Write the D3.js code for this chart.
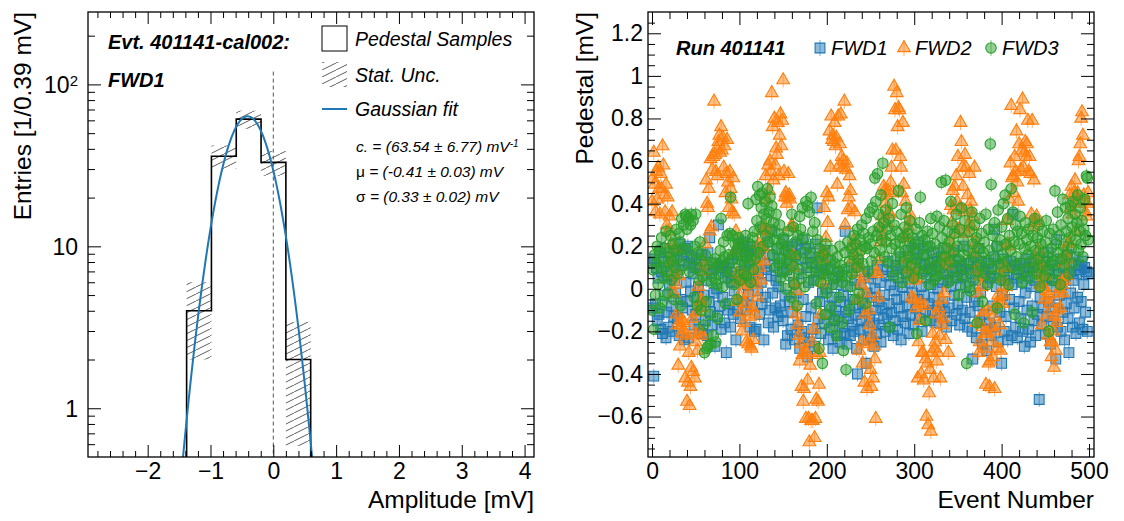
<!DOCTYPE html>
<html>
<head>
<meta charset="utf-8">
<script src="https://cdn.jsdelivr.net/npm/d3@7"></script>
<style>
  body { margin: 0; background: #fff; }
  svg { font-family: 'Liberation Sans', Arial, sans-serif; }
</style>
</head>
<body>
<div class="chart"></div>
<script>
// ---- left panel data: pedestal histogram of one event ----
const binEdges = [-1.38, -0.985, -0.59, -0.195, 0.2, 0.595]
const binCounts = [4, 36, 61, 33, 2]
const fitC = [63.54, 6.77]      // value, error
const fitMu = [-0.41, 0.03]
const fitSigma = [0.33, 0.02]

// ---- right panel data: pedestal per event, one value per event number ----
const fwd1 = [
  0.12,-0.09,-0.41,0.14,-0.07,0.10,-0.15,0.05,-0.12,0.17, -0.19,0.08,-0.21,0.13,-0.03,0.19,-0.23,-0.11,0.06,-0.18,
  0.02,0.15,-0.08,-0.20,0.11,-0.13,0.04,-0.02,0.18,-0.14, 0.09,-0.22,0.21,-0.05,0.16,-0.09,0.13,-0.24,0.19,0.03,
  -0.06,0.20,-0.23,0.12,-0.01,0.15,-0.10,0.07,-0.17,0.10, -0.12,0.14,-0.04,0.01,-0.19,0.09,-0.08,0.16,-0.21,-0.03,
  0.11,-0.15,0.04,-0.22,0.17,-0.06,0.24,-0.11,0.07,-0.17, 0.09,-0.02,-0.27,0.12,0.00,-0.13,0.30,-0.08,0.11,-0.19,
  0.10,-0.04,0.11,-0.16,0.05,-0.30,0.08,-0.10,0.12,-0.07, -0.18,0.03,0.14,-0.12,-0.01,0.06,-0.24,0.16,-0.09,0.21,
  0.05,-0.14,0.19,0.08,-0.06,0.22,0.11,-0.10,0.17,0.02, -0.03,0.18,-0.18,0.13,-0.08,0.20,0.04,-0.20,0.09,-0.19,
  0.15,-0.01,0.07,-0.12,0.19,0.03,-0.07,0.28,-0.24,0.12, -0.04,0.09,0.22,-0.16,0.16,-0.10,0.06,0.27,-0.02,-0.18,
  0.11,-0.09,0.04,0.19,-0.13,0.01,0.14,-0.08,-0.11,0.08, -0.15,0.23,-0.03,-0.26,0.09,-0.22,0.18,-0.06,0.12,-0.19,
  0.20,-0.11,0.03,-0.24,0.16,-0.02,0.21,-0.17,0.07,-0.28, 0.14,-0.20,0.23,-0.05,-0.23,0.19,-0.13,0.10,-0.32,0.03,
  -0.25,0.17,-0.09,0.12,-0.19,0.04,-0.27,0.21,0.08,0.38, -0.14,0.15,-0.06,-0.21,0.11,-0.02,0.07,-0.16,0.18,0.00,
  -0.12,0.09,-0.24,-0.08,0.13,-0.19,-0.04,-0.28,0.05,-0.15, -0.10,0.02,-0.22,-0.13,0.08,-0.25,-0.06,0.06,-0.18,-0.03,
  -0.21,0.27,-0.11,-0.26,0.01,-0.14,-0.08,-0.22,0.10,-0.17, -0.05,-0.20,0.04,-0.12,-0.28,-0.40,0.12,-0.09,-0.19,0.02,
  -0.15,-0.07,-0.24,0.08,-0.11,-0.35,-0.02,-0.18,0.05,-0.13, -0.23,-0.04,0.07,-0.16,-0.27,0.00,-0.10,-0.21,0.11,-0.06,
  -0.17,0.03,-0.25,-0.09,0.09,-0.14,-0.03,-0.20,0.06,-0.12, 0.13,-0.07,-0.18,0.02,-0.11,0.08,-0.22,-0.01,-0.15,0.11,
  -0.05,-0.19,0.05,-0.09,0.15,-0.24,0.01,-0.13,0.10,-0.04, -0.16,0.07,-0.08,0.18,-0.21,0.03,-0.12,0.12,-0.02,-0.17,
  0.06,0.19,-0.09,0.14,-0.05,0.22,-0.14,0.08,0.01,-0.20, 0.16,-0.03,0.11,-0.11,0.05,0.20,-0.07,0.12,-0.15,0.02,
  0.09,-0.10,0.17,-0.04,0.06,-0.16,0.13,0.00,-0.08,0.10, -0.13,0.15,0.03,-0.06,0.19,-0.11,0.07,-0.18,0.12,0.04,
  -0.09,0.14,0.01,-0.15,0.08,0.18,-0.03,0.10,-0.12,0.05, -0.07,0.13,-0.17,0.02,0.11,-0.10,0.06,0.20,-0.14,0.09,
  -0.04,-0.18,0.12,0.01,-0.11,0.07,-0.20,-0.33,0.15,-0.06, 0.04,-0.23,0.10,-0.08,0.19,-0.15,-0.02,0.13,-0.26,0.06,
  -0.12,0.08,-0.19,-0.29,0.03,0.12,-0.16,0.05,-0.22,0.09, -0.08,0.15,0.28,-0.18,0.01,0.20,-0.25,0.06,-0.11,0.11,
  -0.35,-0.03,0.14,-0.20,0.04,-0.13,0.10,-0.24,0.07,-0.05, 0.13,-0.22,0.02,0.35,-0.09,0.11,-0.18,0.05,-0.23,0.09,
  -0.06,0.12,-0.14,0.03,-0.20,0.08,-0.27,-0.02,0.14,-0.10, 0.06,-0.19,0.10,-0.25,0.01,-0.08,0.12,-0.15,0.04,-0.22,
  0.08,-0.12,0.15,-0.52,-0.04,0.10,-0.17,0.03,-0.09,0.13, -0.21,0.05,-0.13,0.17,-0.06,0.09,-0.26,0.01,0.11,-0.15,
  0.04,-0.09,-0.33,0.23,-0.18,0.07,-0.03,0.14,-0.20,0.02, -0.11,0.10,-0.24,0.06,-0.07,0.16,-0.14,-0.30,0.08,-0.02,
  0.12,-0.18,0.04,-0.09,0.15,-0.21,0.07,-0.04,0.11,-0.16, 0.09,-0.06,0.13,-0.19,0.02,0.10,-0.11,0.08,-0.20,0.07
]
const fwd2 = [
  0.41,0.52,0.64,0.49,0.36,0.55,0.42,0.57,0.47,0.35, 0.54,0.47,0.67,0.58,0.44,0.36,0.49,0.30,0.43,0.27,
  0.34,0.13,0.21,0.36,0.07,-0.02,0.19,0.02,-0.12,-0.17, -0.36,0.06,-0.27,-0.17,-0.21,-0.15,-0.19,-0.16,-0.42,-0.22,
  -0.53,-0.44,-0.30,-0.55,-0.46,-0.37,-0.14,-0.39,-0.21,-0.42, -0.25,-0.11,-0.29,0.01,-0.20,-0.06,-0.05,-0.09,-0.22,0.08,
  0.12,0.21,0.51,0.40,0.38,0.47,0.27,0.61,0.29,0.56, 0.62,0.88,0.63,0.55,0.66,0.53,0.69,0.72,0.64,0.76,
  0.65,0.71,0.57,0.67,0.45,0.54,0.70,0.50,0.38,0.55, 0.47,0.42,0.36,0.52,0.35,0.18,0.27,0.07,-0.06,0.04,
  -0.03,-0.11,0.03,-0.20,0.07,-0.16,0.02,-0.07,-0.25,0.05, -0.26,-0.02,-0.13,-0.27,-0.28,-0.09,-0.24,0.08,-0.12,0.02,
  0.14,-0.04,0.21,0.10,0.19,0.04,0.27,0.20,0.13,0.29, 0.53,0.42,0.27,0.58,0.46,0.60,0.55,0.92,0.76,0.51,
  0.80,0.58,0.66,0.63,0.78,0.53,0.72,0.82,0.67,0.79, 0.98,0.55,0.43,0.45,0.40,0.43,0.54,0.44,0.42,0.29,
  0.30,0.16,0.10,0.03,-0.08,-0.12,-0.01,-0.17,-0.22,-0.34, -0.26,-0.46,-0.31,-0.53,-0.47,-0.29,-0.61,-0.30,-0.43,-0.61,
  -0.72,-0.36,-0.62,-0.25,-0.62,-0.19,-0.70,-0.61,-0.52,-0.31, -0.53,-0.45,-0.30,-0.12,0.17,0.03,0.14,0.38,0.17,0.24,
  0.45,0.31,0.43,0.74,0.57,0.81,0.70,0.72,0.69,0.78, 0.67,0.71,0.49,0.81,0.58,0.68,0.82,0.62,0.57,0.60,
  0.88,0.30,0.56,0.59,0.37,0.43,0.53,0.46,0.38,0.20, 0.14,0.23,0.36,0.07,0.12,0.17,-0.05,-0.29,0.10,0.02,
  -0.25,-0.35,0.05,-0.44,-0.12,-0.02,-0.47,-0.26,-0.10,-0.17, -0.38,-0.46,-0.22,-0.42,-0.27,-0.33,-0.61,0.08,0.07,-0.04,
  0.14,0.29,0.22,0.34,0.25,0.48,0.46,0.40,0.44,0.31, 0.46,0.36,0.35,0.50,0.57,0.65,0.45,0.95,0.84,0.65,
  0.92,0.76,0.85,0.84,0.62,0.57,0.45,0.78,0.49,0.24, 0.41,0.25,0.14,0.29,0.09,0.35,0.32,-0.04,0.06,0.10,
  -0.05,0.04,-0.09,0.05,-0.42,-0.25,-0.15,-0.07,-0.40,-0.30, -0.30,-0.43,-0.08,-0.33,-0.60,-0.35,-0.64,-0.49,-0.38,-0.67,
  -0.30,-0.21,-0.42,-0.28,-0.25,-0.12,-0.34,-0.30,-0.09,-0.22, -0.42,-0.05,-0.17,-0.14,-0.02,0.14,-0.24,0.11,0.14,-0.30,
  0.18,0.22,0.39,0.31,0.46,0.37,0.48,0.26,0.53,0.41, 0.62,0.28,0.38,0.78,0.69,0.57,0.48,0.36,0.63,0.57,
  0.26,0.44,0.30,0.54,0.37,0.41,0.29,0.34,0.17,0.57, 0.22,-0.16,0.09,-0.02,-0.30,-0.25,0.06,0.01,-0.18,-0.11,
  -0.28,-0.21,-0.45,-0.10,-0.21,-0.35,-0.46,-0.34,-0.18,-0.25, -0.32,-0.13,-0.47,-0.20,-0.07,-0.28,-0.03,-0.07,-0.17,-0.29,
  0.05,-0.07,0.10,-0.03,0.10,0.01,0.32,0.21,0.20,0.42, 0.59,0.86,0.52,0.53,0.45,0.62,0.55,0.74,0.50,0.41,
  0.68,0.84,0.56,0.65,0.89,0.57,0.64,0.69,0.62,0.68, 0.79,0.55,0.62,0.54,0.35,0.79,0.29,0.51,0.32,0.31,
  0.34,0.13,0.18,0.07,0.02,0.11,-0.17,0.01,0.06,-0.05, 0.06,-0.01,-0.12,-0.22,-0.03,-0.07,-0.25,-0.32,-0.25,-0.20,
  -0.37,-0.13,-0.29,-0.16,-0.10,-0.02,0.00,-0.09,0.04,0.02, -0.02,0.12,0.04,0.17,0.06,0.14,0.21,0.22,0.44,0.38,
  0.48,0.35,0.40,0.45,0.51,0.27,0.43,0.45,0.60,0.62, 0.68,0.80,0.83,0.72,0.44,0.41,0.36,0.34,0.40,0.45
]
const fwd3 = [
  -0.10,0.09,-0.19,0.16,-0.03,0.12,0.20,0.02,0.18,-0.09, 0.10,0.24,-0.06,0.14,0.05,0.19,0.27,0.08,-0.02,0.17,
  0.12,0.25,0.04,0.13,0.21,-0.05,0.18,0.10,0.28,0.07, 0.15,0.26,0.22,-0.08,0.33,0.19,0.30,0.11,0.35,0.34,
  0.28,0.18,0.33,0.08,0.30,0.35,0.14,0.32,-0.04,0.20, 0.35,0.10,-0.08,0.17,0.04,0.22,-0.10,0.13,0.06,-0.17,
  -0.30,0.16,-0.06,-0.28,-0.27,0.09,-0.12,-0.26,0.03,0.12, -0.22,0.05,0.14,-0.25,0.02,-0.14,0.11,0.07,0.18,0.33,
  0.13,0.01,0.22,0.15,-0.07,0.10,0.25,0.05,0.16,0.26, 0.43,0.08,0.25,0.14,0.02,0.21,0.17,-0.05,0.19,0.24,
  0.11,0.04,0.22,0.13,0.20,0.07,0.16,0.25,0.06,0.15, 0.40,0.12,0.21,0.03,0.18,0.24,0.09,0.27,0.14,0.42,
  0.32,0.48,0.17,0.44,0.29,0.38,0.45,0.20,0.35,0.41, 0.25,0.33,0.47,0.22,0.36,0.43,0.28,0.39,0.16,0.31,
  0.23,0.10,0.35,0.19,0.26,0.12,0.30,0.05,0.21,0.14, 0.24,0.08,0.18,0.00,0.13,0.20,0.27,0.06,0.16,-0.04,
  0.35,0.11,0.29,0.02,0.22,0.15,-0.08,0.25,0.09,0.34, 0.28,0.05,0.38,0.17,0.24,0.01,0.41,0.12,0.39,0.20,
  0.36,0.08,0.43,0.15,0.27,0.04,0.31,0.10,-0.07,0.23, 0.13,-0.28,0.19,0.03,0.07,-0.35,0.16,0.09,-0.12,0.21,
  -0.02,0.14,0.06,-0.18,0.10,-0.09,0.18,0.02,-0.14,0.12, 0.05,-0.22,0.15,0.08,-0.04,0.20,0.11,-0.16,0.03,-0.29,
  0.09,0.17,-0.38,0.06,0.22,-0.10,0.13,0.01,0.19,0.07, 0.16,0.25,-0.05,0.21,0.10,0.28,0.14,-0.02,0.23,0.18,
  0.30,0.12,0.26,0.20,-0.07,0.33,0.19,0.08,0.24,0.36, 0.21,0.13,0.38,0.27,0.17,0.52,0.41,0.25,0.54,0.35,
  0.29,0.18,0.44,0.23,0.59,0.31,0.15,0.37,0.22,0.28, 0.12,0.33,-0.18,0.25,0.19,0.40,0.06,0.30,0.21,0.14,
  0.27,0.09,0.46,0.17,0.22,0.35,0.03,0.24,0.13,0.29, 0.18,0.38,0.08,0.26,0.15,0.32,0.11,0.20,0.24,0.05,
  0.21,0.14,0.28,-0.21,0.17,0.09,0.31,0.43,0.12,0.25, 0.07,0.19,0.23,-0.15,0.16,0.27,0.10,0.02,0.20,0.33,
  0.08,0.26,0.14,0.04,0.21,0.11,0.34,0.06,0.18,0.29, 0.12,0.50,0.24,0.07,0.32,0.15,0.51,0.19,0.27,0.03,
  0.22,0.13,0.41,0.09,0.30,0.17,0.26,0.05,0.35,0.20, 0.14,-0.03,0.28,0.11,0.38,0.06,0.23,0.16,0.32,0.01,
  -0.35,0.18,0.09,0.27,-0.01,0.13,0.36,0.21,0.04,0.30, 0.15,0.24,-0.16,0.08,0.19,0.33,0.11,0.26,-0.06,0.17,
  0.22,0.07,0.35,0.13,0.02,0.28,0.18,0.68,0.49,0.10, 0.25,0.06,0.31,0.14,0.20,-0.09,0.37,0.12,0.23,0.04,
  0.29,0.16,0.40,0.08,0.44,0.21,0.13,0.33,0.02,0.25, 0.18,0.47,0.10,0.36,0.22,-0.12,0.30,0.15,0.27,0.07,
  0.21,0.34,0.12,0.26,0.03,-0.16,0.19,0.31,0.09,0.23, 0.16,0.28,0.05,0.20,0.13,-0.11,0.25,0.10,0.33,0.18,
  0.07,0.24,0.14,0.30,0.01,0.21,0.11,0.27,0.17,0.06, 0.22,0.32,0.09,0.15,-0.20,0.26,0.12,0.19,0.04,0.28,
  0.13,0.46,0.21,0.08,0.36,0.17,0.25,0.02,0.30,0.14, 0.42,0.20,0.11,0.38,0.27,0.16,0.33,0.07,0.24,0.39,
  0.19,0.29,0.41,0.12,0.35,0.23,0.31,0.44,0.18,0.27, 0.38,0.21,0.32,0.15,0.28,0.42,0.25,0.53,0.52,0.23
]
const seriesNames = ['FWD1', 'FWD2', 'FWD3']
const seriesErr = [0.035, 0.035, 0.035]      // typical stat. error per point
const wideErr = {series: 2, event: 193, err: 0.29}  // one FWD3 point with a large error

// ---- tick labels ----
const xTicksL = [-2, -1, 0, 1, 2, 3, 4]
const yTicksL = [1, 10, 100]
const xTicksR = [0, 100, 200, 300, 400, 500]
const yTicksR = [-0.6, -0.4, -0.2, 0, 0.2, 0.4, 0.6, 0.8, 1, 1.2]

const colors = ['#1f77b4', '#ff7f0e', '#2ca02c']
const fs = 23

const svg = d3.select('.chart').append('svg')
  .attr('width', 1124)
  .attr('height', 521)

const defs = svg.append('defs')
defs.append('pattern')
    .attr('id', 'hatch')
    .attr('patternUnits', 'userSpaceOnUse')
    .attr('width', 14).attr('height', 7)
  .append('path')
    .attr('d', 'M0,7 L14,0 M-14,7 L0,0 M14,7 L28,0')
    .attr('stroke', '#333')
    .attr('stroke-width', 0.8)

// =============== LEFT PANEL ===============
const L = {left: 88, right: 534, top: 12, bottom: 457}
const xL = d3.scaleLinear().domain([-2.95, 4.15]).range([L.left, L.right])
const yL = d3.scaleLog().domain([0.5, 280]).range([L.bottom, L.top])

defs.append('clipPath').attr('id', 'clipL')
  .append('rect').attr('x', L.left).attr('y', L.top)
  .attr('width', L.right - L.left).attr('height', L.bottom - L.top)

const gL = svg.append('g')
const plotL = gL.append('g').attr('clip-path', 'url(#clipL)')

// stat. uncertainty band
plotL.selectAll('.unc')
  .data(binCounts)
  .enter()
  .append('rect')
    .attr('class', 'unc')
    .attr('x', (d, i) => xL(binEdges[i]))
    .attr('width', (d, i) => xL(binEdges[i + 1]) - xL(binEdges[i]))
    .attr('y', d => yL(d + Math.sqrt(d)))
    .attr('height', d => yL(Math.max(d - Math.sqrt(d), 0.5)) - yL(d + Math.sqrt(d)))
    .attr('fill', 'url(#hatch)')

// zero line
plotL.append('line')
  .attr('x1', xL(0)).attr('x2', xL(0))
  .attr('y1', yL(120)).attr('y2', L.bottom)
  .attr('stroke', '#555').attr('stroke-width', 1)
  .attr('stroke-dasharray', '4,3')

// histogram outline
let histPath = `M${xL(binEdges[0])},${L.bottom}`
binCounts.forEach((n, i) => {
  histPath += `V${yL(n)}H${xL(binEdges[i + 1])}`
})
histPath += `V${L.bottom}`
plotL.append('path')
  .attr('d', histPath)
  .attr('fill', 'none')
  .attr('stroke', '#000')
  .attr('stroke-width', 1.6)

// gaussian fit curve from the fitted parameters
const gauss = x => fitC[0] * Math.exp(-((x - fitMu[0]) ** 2) / (2 * fitSigma[0] ** 2))
const curvePts = d3.range(-2.95, 4.15, 0.01).filter(x => gauss(x) > 0.2)
plotL.append('path')
  .attr('d', d3.line().x(x => xL(x)).y(x => yL(gauss(x)))(curvePts))
  .attr('fill', 'none')
  .attr('stroke', colors[0])
  .attr('stroke-width', 2)

// axes (ticks inside, on all four sides)
function styleAxis(g) {
  g.select('.domain').remove()
  g.selectAll('line').attr('stroke', '#000').attr('stroke-width', 1)
  g.selectAll('text').attr('font-size', fs).attr('fill', '#000')
    .style('font-family', "'Liberation Sans', Arial, sans-serif")
}

const xMinorL = d3.range(-2.8, 4.15, 0.2).filter(v => Math.abs(v - Math.round(v)) > 0.01)
gL.append('g').attr('transform', `translate(0,${L.bottom})`)
  .call(d3.axisBottom(xL).tickValues(xTicksL).tickSize(-12).tickPadding(6).tickFormat(d3.format('~g')))
  .call(styleAxis)
gL.append('g').attr('transform', `translate(0,${L.bottom})`)
  .call(d3.axisBottom(xL).tickValues(xMinorL).tickSize(-6).tickFormat(''))
  .call(styleAxis)
gL.append('g').attr('transform', `translate(0,${L.top})`)
  .call(d3.axisTop(xL).tickValues(xTicksL).tickSize(-12).tickFormat(''))
  .call(styleAxis)
gL.append('g').attr('transform', `translate(0,${L.top})`)
  .call(d3.axisTop(xL).tickValues(xMinorL).tickSize(-6).tickFormat(''))
  .call(styleAxis)

const yMinorL = [0.6, 0.7, 0.8, 0.9, 2, 3, 4, 5, 6, 7, 8, 9, 20, 30, 40, 50, 60, 70, 80, 90, 200]
gL.append('g').attr('transform', `translate(${L.left},0)`)
  .call(d3.axisLeft(yL).tickValues(yTicksL).tickSize(-13).tickFormat(''))
  .call(styleAxis)
gL.append('g').attr('transform', `translate(${L.left},0)`)
  .call(d3.axisLeft(yL).tickValues(yMinorL).tickSize(-7).tickFormat(''))
  .call(styleAxis)
gL.append('g').attr('transform', `translate(${L.right},0)`)
  .call(d3.axisRight(yL).tickValues(yTicksL).tickSize(-13).tickFormat(''))
  .call(styleAxis)
gL.append('g').attr('transform', `translate(${L.right},0)`)
  .call(d3.axisRight(yL).tickValues(yMinorL).tickSize(-7).tickFormat(''))
  .call(styleAxis)

// log labels: 1, 10, 10^2
yTicksL.forEach(v => {
  const t = gL.append('text')
    .attr('x', L.left - 10).attr('y', yL(v)).attr('dy', '0.36em')
    .attr('text-anchor', 'end').attr('font-size', fs)
  if (v < 100) t.text(v)
  else {
    t.append('tspan').text('10')
    t.append('tspan').attr('dy', '-0.45em').attr('font-size', 15).text(Math.log10(v))
  }
})

gL.append('rect')
  .attr('x', L.left).attr('y', L.top)
  .attr('width', L.right - L.left).attr('height', L.bottom - L.top)
  .attr('fill', 'none').attr('stroke', '#000').attr('stroke-width', 1.3)

gL.append('text')
  .attr('transform', `translate(31,${L.top}) rotate(-90)`)
  .attr('text-anchor', 'end').attr('font-size', 24.5)
  .text('Entries [1/0.39 mV]')
gL.append('text')
  .attr('x', L.right).attr('y', 508)
  .attr('text-anchor', 'end').attr('font-size', 24.5)
  .text('Amplitude [mV]')

// labels + legend
gL.append('text').attr('x', 108).attr('y', 49)
  .attr('font-size', 20).attr('font-weight', 'bold').attr('font-style', 'italic')
  .text('Evt. 401141-cal002:')
gL.append('text').attr('x', 108).attr('y', 87)
  .attr('font-size', 20).attr('font-weight', 'bold').attr('font-style', 'italic')
  .text('FWD1')

gL.append('rect').attr('x', 322).attr('y', 26).attr('width', 25).attr('height', 25)
  .attr('fill', 'none').attr('stroke', '#000').attr('stroke-width', 1)
gL.append('rect').attr('x', 322).attr('y', 62).attr('width', 25).attr('height', 25)
  .attr('fill', 'url(#hatch)')
gL.append('line').attr('x1', 322).attr('x2', 347).attr('y1', 109).attr('y2', 109)
  .attr('stroke', colors[0]).attr('stroke-width', 2)

const legL = ['Pedestal Samples', 'Stat. Unc.', 'Gaussian fit']
legL.forEach((s, i) => {
  gL.append('text').attr('x', 355).attr('y', [46, 82, 116][i])
    .attr('font-size', 19.5).attr('font-style', 'italic').text(s)
})

const fitLines = [
  ['c.', ` = (${fitC[0].toFixed(2)} \u00b1 ${fitC[1].toFixed(2)}) mV`, '-1'],
  ['\u03bc', ` = (${fitMu[0].toFixed(2)} \u00b1 ${fitMu[1].toFixed(2)}) mV`, ''],
  ['\u03c3', ` = (${fitSigma[0].toFixed(2)} \u00b1 ${fitSigma[1].toFixed(2)}) mV`, '']
]
fitLines.forEach((f, i) => {
  const t = gL.append('text').attr('x', 356).attr('y', 152 + i * 25)
    .attr('font-size', 15.5).attr('font-style', 'italic')
  t.append('tspan').attr('font-style', i === 0 ? 'italic' : 'normal').text(f[0])
  t.append('tspan').text(f[1])
  if (f[2]) t.append('tspan').attr('dy', '-0.5em').attr('font-size', 10).text(f[2])
})

// =============== RIGHT PANEL ===============
const R = {left: 648, right: 1094, top: 12, bottom: 457}
const xR = d3.scaleLinear().domain([-4.6, 505.7]).range([R.left, R.right])
const yR = d3.scaleLinear().domain([-0.79, 1.3]).range([R.bottom, R.top])

defs.append('clipPath').attr('id', 'clipR')
  .append('rect').attr('x', R.left).attr('y', R.top)
  .attr('width', R.right - R.left).attr('height', R.bottom - R.top)

const gR = svg.append('g')
const plotR = gR.append('g').attr('clip-path', 'url(#clipR)')

const symbols = [
  d3.symbol().type(d3.symbolSquare).size(96),
  d3.symbol().type(d3.symbolTriangle).size(70),
  d3.symbol().type(d3.symbolCircle).size(86)
]

;[fwd1, fwd2, fwd3].forEach((vals, s) => {
  const pts = vals.map((v, i) => ({e: i, v: v,
    err: (s === wideErr.series && i === wideErr.event) ? wideErr.err : seriesErr[s]}))
  const g = plotR.append('g').attr('class', 'series-' + seriesNames[s])
  g.selectAll('line')
    .data(pts)
    .enter()
    .append('line')
      .attr('x1', d => xR(d.e)).attr('x2', d => xR(d.e))
      .attr('y1', d => yR(d.v - d.err)).attr('y2', d => yR(d.v + d.err))
      .attr('stroke', colors[s]).attr('stroke-opacity', 0.6).attr('stroke-width', 1)
  g.selectAll('path')
    .data(pts)
    .enter()
    .append('path')
      .attr('d', symbols[s])
      .attr('transform', d => `translate(${xR(d.e)},${yR(d.v)})`)
      .attr('fill', colors[s]).attr('fill-opacity', 0.5)
      .attr('stroke', colors[s]).attr('stroke-width', 1.1)
})

const xMinorR = d3.range(-0, 506, 20).filter(v => v % 100 !== 0)
const yMinorR = d3.range(-0.75, 1.3, 0.05).filter(v => Math.abs(v * 5 - Math.round(v * 5)) > 0.01)
gR.append('g').attr('transform', `translate(0,${R.bottom})`)
  .call(d3.axisBottom(xR).tickValues(xTicksR).tickSize(-13).tickPadding(6).tickFormat(d3.format('d')))
  .call(styleAxis)
gR.append('g').attr('transform', `translate(0,${R.bottom})`)
  .call(d3.axisBottom(xR).tickValues(xMinorR).tickSize(-7).tickFormat(''))
  .call(styleAxis)
gR.append('g').attr('transform', `translate(0,${R.top})`)
  .call(d3.axisTop(xR).tickValues(xTicksR).tickSize(-13).tickFormat(''))
  .call(styleAxis)
gR.append('g').attr('transform', `translate(0,${R.top})`)
  .call(d3.axisTop(xR).tickValues(xMinorR).tickSize(-7).tickFormat(''))
  .call(styleAxis)
gR.append('g').attr('transform', `translate(${R.left},0)`)
  .call(d3.axisLeft(yR).tickValues(yTicksR).tickSize(-13).tickPadding(5).tickFormat(d3.format('~g')))
  .call(styleAxis)
gR.append('g').attr('transform', `translate(${R.left},0)`)
  .call(d3.axisLeft(yR).tickValues(yMinorR).tickSize(-7).tickFormat(''))
  .call(styleAxis)
gR.append('g').attr('transform', `translate(${R.right},0)`)
  .call(d3.axisRight(yR).tickValues(yTicksR).tickSize(-13).tickFormat(''))
  .call(styleAxis)
gR.append('g').attr('transform', `translate(${R.right},0)`)
  .call(d3.axisRight(yR).tickValues(yMinorR).tickSize(-7).tickFormat(''))
  .call(styleAxis)

gR.append('rect')
  .attr('x', R.left).attr('y', R.top)
  .attr('width', R.right - R.left).attr('height', R.bottom - R.top)
  .attr('fill', 'none').attr('stroke', '#000').attr('stroke-width', 1.3)

gR.append('text')
  .attr('transform', `translate(593,${R.top}) rotate(-90)`)
  .attr('text-anchor', 'end').attr('font-size', 24.5)
  .text('Pedestal [mV]')
gR.append('text')
  .attr('x', R.right).attr('y', 508)
  .attr('text-anchor', 'end').attr('font-size', 24.5)
  .text('Event Number')

// run label + legend
gR.append('text').attr('x', 676).attr('y', 55)
  .attr('font-size', 20).attr('font-weight', 'bold').attr('font-style', 'italic')
  .text('Run 401141')
const legX = [820, 904, 991]
seriesNames.forEach((name, s) => {
  gR.append('line')
    .attr('x1', legX[s]).attr('x2', legX[s]).attr('y1', 40).attr('y2', 56)
    .attr('stroke', colors[s]).attr('stroke-opacity', 0.6)
  gR.append('path')
    .attr('d', symbols[s])
    .attr('transform', `translate(${legX[s]},48)`)
    .attr('fill', colors[s]).attr('fill-opacity', 0.5)
    .attr('stroke', colors[s]).attr('stroke-width', 1.1)
  gR.append('text').attr('x', legX[s] + 11).attr('y', 55)
    .attr('font-size', 20).attr('font-style', 'italic').text(name)
})
</script>
</body>
</html>
